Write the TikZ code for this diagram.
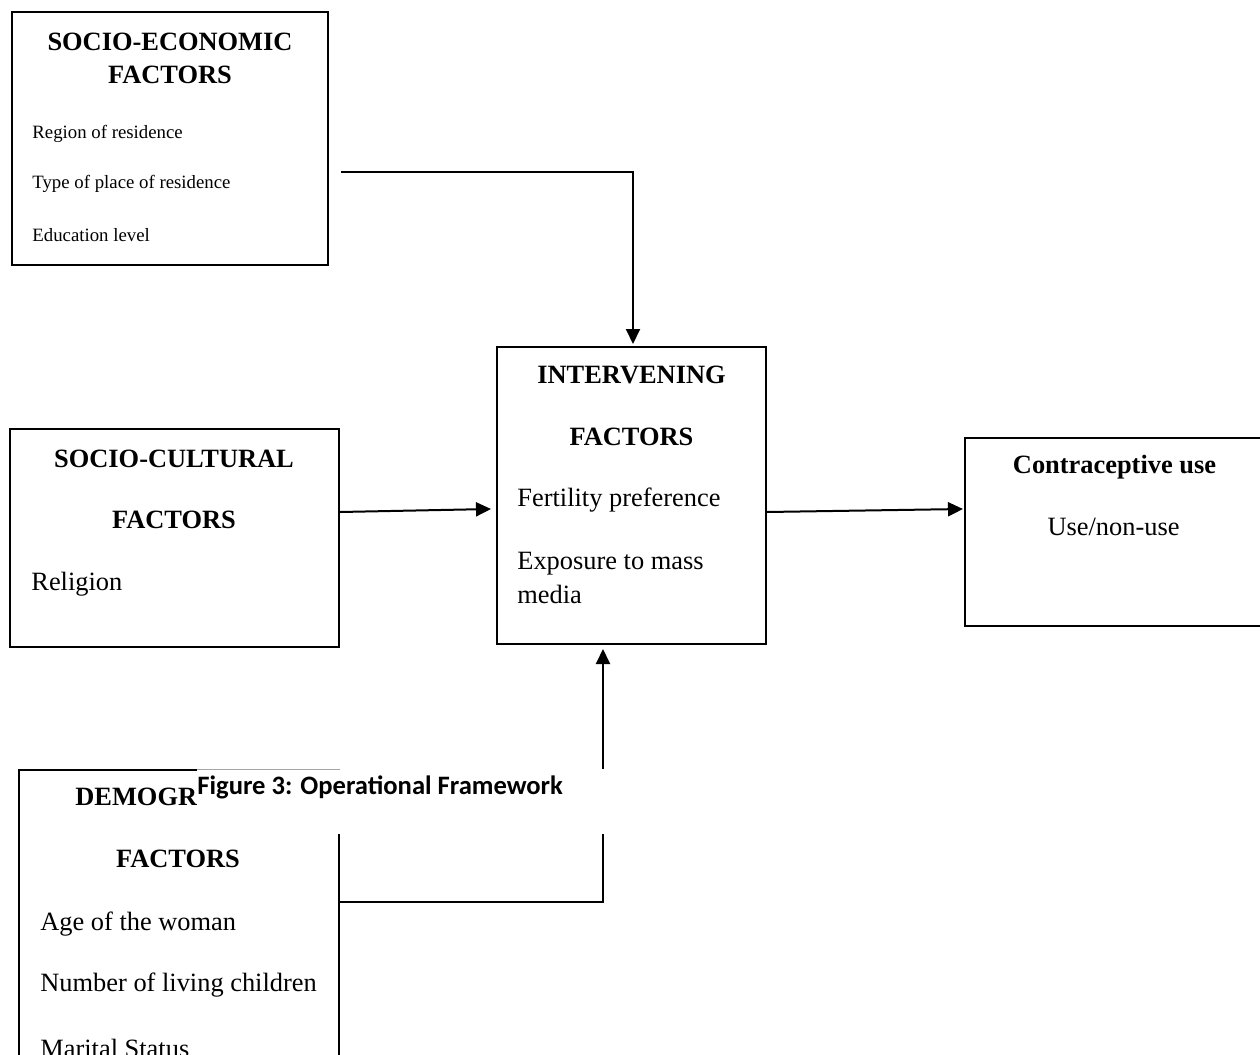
\documentclass[tikz,border=0pt]{standalone}
\usepackage{fontspec}
\setmainfont{Liberation Serif}
\newfontfamily\capfont{Carlito}
\usetikzlibrary{arrows.meta,fit}

\begin{document}
\begin{tikzpicture}[x=0.5pt, y=-0.5pt,
  box/.style={draw, line width=1pt, inner sep=0pt},
  head/.style={font=\fontsize{13.2}{15}\selectfont\bfseries, anchor=base, inner sep=0pt},
  item/.style={font=\fontsize{13.2}{15}\selectfont, anchor=base west, inner sep=0pt},
  small/.style={font=\fontsize{9.4}{11}\selectfont, anchor=base west, inner sep=0pt},
  arr/.style={-{Triangle[length=7.5pt,width=7pt]}, line width=1pt}
]
\useasboundingbox (0,0) rectangle (1260,1055);

% boxes
\node[box, fit={(12,12) (328,265)}]    (se) {};
\node[box, fit={(10,429) (339,647)}]   (sc) {};
\node[box, fit={(497,347) (766,644)}]  (iv) {};
\node[box, fit={(965,438) (1280,626)}] (cu) {};
\node[box, fit={(19,770) (339,1075)}]  (dm) {};

% socio-economic
\node[head] (seh1) at (170,50) {SOCIO-ECONOMIC};
\node[head] (seh2) at (170,83) {FACTORS};
\node[small] (se1) at (32,138) {Region of residence};
\node[small] (se2) at (32,188) {Type of place of residence};
\node[small] (se3) at (32,241) {Education level};

% socio-cultural
\node[head] (sch1) at (174,467) {SOCIO-CULTURAL};
\node[head] (sch2) at (174,528) {FACTORS};
\node[item] (sc1) at (31,590) {Religion};

% intervening
\node[head] (ivh1) at (631.5,383) {INTERVENING};
\node[head] (ivh2) at (631.5,445) {FACTORS};
\node[item] (iv1) at (517,506) {Fertility preference};
\node[item] (iv2) at (517,569) {Exposure to mass};
\node[item] (iv3) at (517,603) {media};

% outcome
\node[head] (cuh) at (1114.5,473) {Contraceptive use};
\node[head, font=\fontsize{13.2}{15}\selectfont] (cu1) at (1113.5,535) {Use/non-use};

% demographic
\node[head, anchor=base west] (dmh1) at (75,805) {DEMOGR};
\node[head] (dmh2) at (178,867) {FACTORS};
\node[item] (dm1) at (40,930) {Age of the woman};
\node[item] (dm2) at (40,991) {Number of living children};
\node[item] (dm3) at (40,1057) {Marital Status};

% connectors
\draw[arr] ([xshift=6pt,yshift=-16.75pt]se.east) -| ([xshift=0.75pt,yshift=1pt]iv.north);
\draw[arr] ([yshift=13pt]sc.east) -- ([xshift=-2.5pt,yshift=-6.75pt]iv.west);
\draw[arr] ([yshift=-8.25pt]iv.east) -- ([xshift=-0.5pt,yshift=11.5pt]cu.west);
\draw[arr] ([yshift=10.25pt]dm.east) -| ([xshift=-14.25pt,yshift=-2pt]iv.south);

% caption pasted over the figure
\fill[white] (197,769) rectangle (640,834);
\draw[black!35, line width=0.5pt] (197,769.5) -- (340,769.5);
\node[font=\capfont\bfseries\fontsize{13.3}{16}\selectfont, anchor=base west, inner sep=0pt]
  (cap) at (197,794) {Figure 3: Operational Framework};
\end{tikzpicture}
\end{document}
